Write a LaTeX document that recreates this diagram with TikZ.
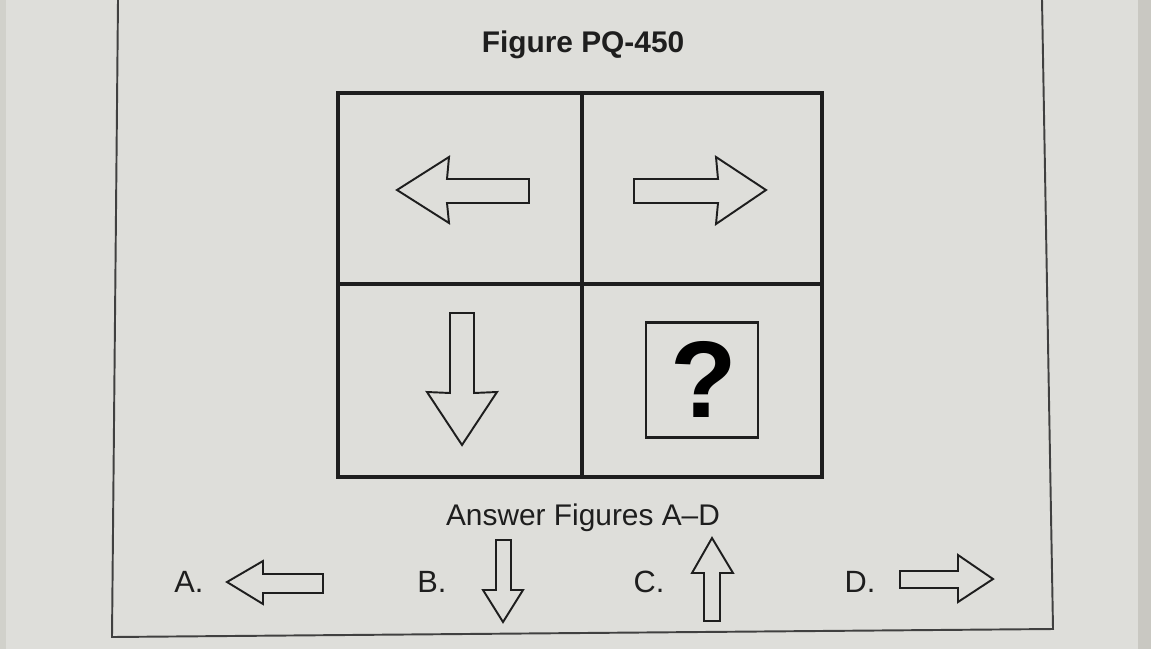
\documentclass[tikz,border=0pt]{standalone}
\usepackage{fontspec}
\setmainfont{Liberation Sans}
\usepackage{tikz}
\usetikzlibrary{positioning}
\definecolor{cpage}{HTML}{DEDEDA}
\definecolor{cedge}{HTML}{C9C8C2}
\definecolor{cink}{HTML}{1E1E1E}
\tikzset{
  grid/.style={draw=cink, line width=2.1pt},
  frame/.style={draw=cink!85, line width=1.1pt},
  blockarr/.style={draw=cink, line width=1.1pt, line join=miter, fill=cpage},
  title/.style={font=\fontsize{17}{20}\selectfont\bfseries, text=cink},
  caption/.style={font=\fontsize{17}{20}\selectfont, text=cink},
  lbl/.style={font=\fontsize{17.5}{20}\selectfont, text=cink, inner sep=0pt},
  qbox/.style={draw=cink, line width=1.3pt, minimum width=2.24cm, minimum height=2.3cm, inner sep=0pt},
}
\begin{document}
\begin{tikzpicture}[x=0.02cm,y=-0.02cm]
\useasboundingbox (0,0) rectangle (1151,649);
\fill[cpage] (0,0) rectangle (1151,649);
\fill[cedge] (1138,0) rectangle (1151,649);
\fill[cedge!60!cpage] (0,0) rectangle (6,649);
% sheet border
\draw[frame] (118,0) -- (112,637) -- (1053,629) -- (1042,0);
\node[title] (head) at (583,45) {Figure PQ-450};
% 2x2 puzzle grid
\draw[grid] (338,93) rectangle (822,477);
\draw[grid] (582,93) -- (582,477);
\draw[grid] (338,284) -- (822,284);
\draw[blockarr] (397,190) -- (449,157) -- (447,179) -- (529,179) -- (529,203) -- (447,203) -- (449,223) -- cycle;
\draw[blockarr] (634,179) -- (718,179) -- (716,157) -- (766,190) -- (716,224) -- (718,203) -- (634,203) -- cycle;
\draw[blockarr] (450,313) -- (474,313) -- (474,393) -- (497,392) -- (462,445) -- (427,392) -- (450,393) -- cycle;
\node[qbox] (qsq) at (702,380) {};
\node[font=\fontsize{62}{62}\selectfont\bfseries, text=black, inner sep=0pt] (qmark) at (704,379) {?};
% answer figures
\node[caption] (ans) at (583,518) {Answer Figures A–D};
\foreach \x/\t in {189/A, 432/B, 649/C, 860/D}
  \node[lbl] (opt\t) at (\x,582) {\t.};
\draw[blockarr] (227,582) -- (263,561) -- (263,574) -- (323,574) -- (323,593) -- (263,593) -- (263,604) -- cycle;
\draw[blockarr] (496,540) -- (511,540) -- (511,590) -- (523,590) -- (503,622) -- (483,590) -- (496,590) -- cycle;
\draw[blockarr] (712,538) -- (733,573) -- (720,573) -- (720,621) -- (704,621) -- (704,573) -- (692,573) -- cycle;
\draw[blockarr] (900,571) -- (958,571) -- (958,555) -- (993,579) -- (958,602) -- (958,588) -- (900,588) -- cycle;
\end{tikzpicture}
\end{document}
